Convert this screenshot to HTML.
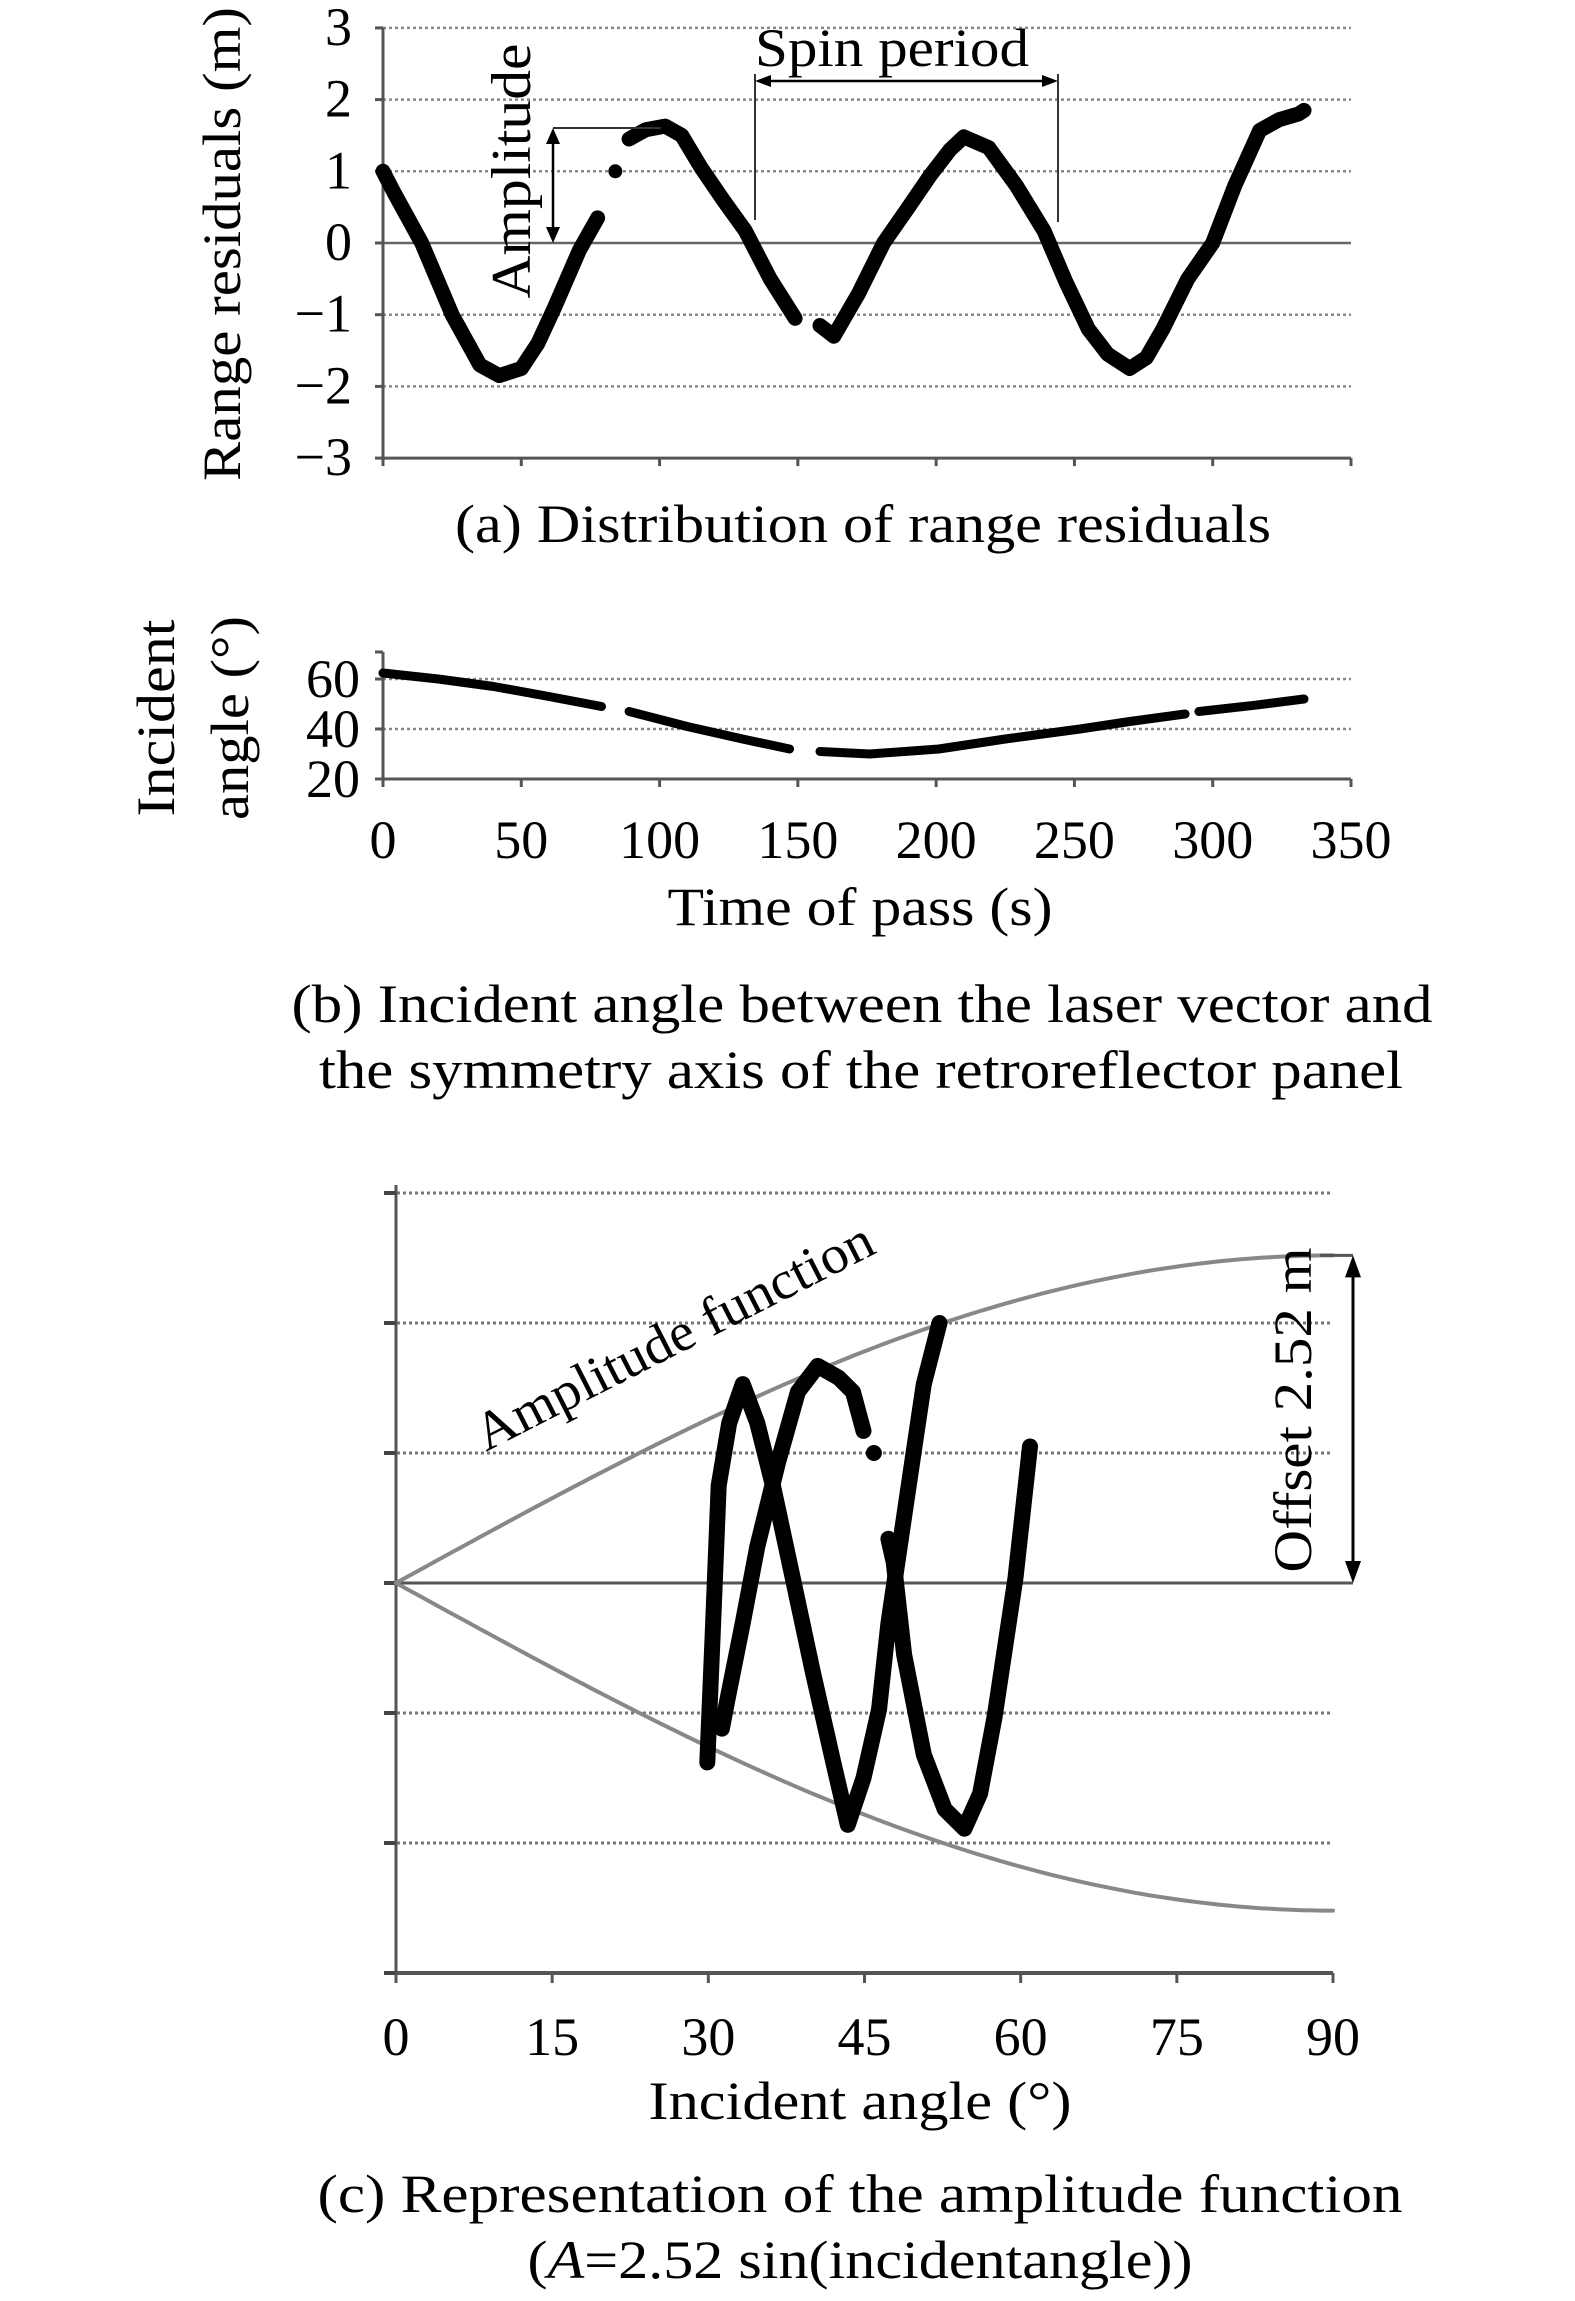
<!DOCTYPE html>
<html><head><meta charset="utf-8"><style>
html,body{margin:0;padding:0;background:#fff;}
svg{display:block;font-family:"Liberation Serif",serif;}
</style></head><body>
<svg id="fig" width="1575" height="2301" viewBox="0 0 1575 2301" xmlns="http://www.w3.org/2000/svg">
<g id="ga"></g>
<g id="gb"></g>
<g id="gc"></g>
</svg>
<script>
// ---- chart (a) data: range residuals vs time (segments separated by gaps)
const aSeg1T = [0, 4, 14, 25, 35, 42, 50, 56, 62, 71, 77.6];
const aSeg1V = [1.0, 0.7, 0, -1.0, -1.7, -1.85, -1.75, -1.4, -0.9, -0.1, 0.35];
const aDotT = [84];
const aDotV = [1.0];
const aSeg2T = [89, 95, 102, 108, 115, 123, 131, 140, 149];
const aSeg2V = [1.45, 1.58, 1.63, 1.5, 1.05, 0.6, 0.17, -0.5, -1.05];
const aSeg3T = [158, 163, 172, 181, 190, 198, 205, 210, 219, 229, 239, 247, 255, 262, 270, 276, 282, 291, 300, 308, 317, 324, 331, 333];
const aSeg3V = [-1.15, -1.3, -0.7, 0, 0.5, 0.95, 1.3, 1.48, 1.33, 0.8, 0.17, -0.55, -1.2, -1.55, -1.75, -1.6, -1.2, -0.5, 0, 0.8, 1.57, 1.72, 1.8, 1.85];
const aYTicks = [3, 2, 1, 0, -1, -2, -3];
const aYLabels = ["3", "2", "1", "0", "\u22121", "\u22122", "\u22123"];
const xTicksTime = [0, 50, 100, 150, 200, 250, 300, 350];
// ---- chart (b) data: incident angle vs time
const bSeg1T = [0, 20, 40, 60, 79];
const bSeg1V = [62.4, 60, 57, 53, 49];
const bSeg2T = [89, 110, 130, 147];
const bSeg2V = [47, 41, 36, 32];
const bSeg3T = [158, 176, 201, 225, 252, 270, 290];
const bSeg3V = [31, 30, 32, 36, 40, 43, 46];
const bSeg4T = [295, 315, 333];
const bSeg4V = [47, 49.5, 52];
const bYTicks = [60, 40, 20];
// ---- chart (c) data: residual vs incident angle
const cA1 = [60.9, 59.5, 57.5, 56.1, 54.6, 52.7, 50.7, 48.8, 47.8, 47.3];
const cV1 = [1.05, 0.04, -1.03, -1.62, -1.89, -1.74, -1.32, -0.55, 0.16, 0.34];
const cDotA = [45.9];
const cDotV = [1.0];
const cA2 = [44.9, 43.9, 42.5, 40.5, 38.6, 36.7, 34.7, 33.3, 31.8, 31.3];
const cV2 = [1.17, 1.47, 1.58, 1.67, 1.47, 0.93, 0.28, -0.31, -0.91, -1.12];
const cA3 = [29.9, 30.4, 31.0, 32.0, 33.3, 34.7, 36.2, 38.1, 40.0, 42.0, 43.4, 44.9, 46.4, 47.3, 48.6, 49.8, 50.7, 52.2];
const cV3 = [-1.38, -0.43, 0.75, 1.23, 1.53, 1.23, 0.75, 0.04, -0.67, -1.38, -1.86, -1.5, -0.97, -0.31, 0.40, 1.05, 1.53, 2.0];
const cAmp = [2.52];
const cXTicks = [0, 15, 30, 45, 60, 75, 90];
const cGrid = [3, 2, 1, -1, -2];

const NS = "http://www.w3.org/2000/svg";
function mk(parent, tag, attrs, text) {
  const e = document.createElementNS(NS, tag);
  for (const k in attrs) e.setAttribute(k, attrs[k]);
  if (text !== undefined) e.textContent = text;
  parent.appendChild(e);
  return e;
}
function poly(parent, xs, ys, fx, fy, w, name) {
  const pts = xs.map((x, i) => fx(x).toFixed(1) + "," + fy(ys[i]).toFixed(1)).join(" ");
  const p = mk(parent, "polyline", {points: pts, fill: "none", stroke: "#000", "stroke-width": w, "stroke-linejoin": "round", "stroke-linecap": "round"});
  
  
  return p;
}
function dot(parent, x, y, r, name) {
  const c = mk(parent, "circle", {cx: x, cy: y, r: r, fill: "#000"});
  
  
}
function line(parent, x1, y1, x2, y2, st, w, dash, name) {
  const l = mk(parent, "line", {x1, y1, x2, y2, stroke: st, "stroke-width": w});
  if (dash) l.setAttribute("stroke-dasharray", dash);
  
  
  return l;
}
function txt(parent, x, y, s, size, anchor, name, extra) {
  const t = mk(parent, "text", Object.assign({x, y, "font-size": size, "text-anchor": anchor || "middle", fill: "#000"}, extra || {}), s);
  
  
  return t;
}
function wide(len) { return {textLength: len, lengthAdjust: "spacingAndGlyphs"}; }

// ===== Chart (a)
const ga = document.getElementById("ga");
const ax = t => 383 + t / 350 * 968;
const ay = v => 243 - v * 71.7;
aYTicks.forEach((v, i) => {
  if (v === 0) line(ga, 383, ay(v), 1351, ay(v), "#666", 2.5, null, "zero-line");
  else if (v !== -3) line(ga, 383, ay(v), 1351, ay(v), "#888", 2.5, "3 3", "gridline-y");
  line(ga, 375, ay(v), 383, ay(v), "#555", 3, null, "y-tick");
  txt(ga, 352, ay(v) + 17, aYLabels[i], 54, "end", "y-tick-label");
});
line(ga, 383, ay(3), 383, ay(-3), "#555", 3, null, "y-axis");
line(ga, 383, ay(-3), 1351, ay(-3), "#555", 3, null, "x-axis");
xTicksTime.forEach(t => line(ga, ax(t), ay(-3), ax(t), ay(-3) + 8, "#555", 3, null, "x-tick"));
poly(ga, aSeg1T, aSeg1V, ax, ay, 15, "residual-segment-1");
aDotT.forEach((t, i) => dot(ga, ax(t), ay(aDotV[i]), 7, "residual-dot"));
poly(ga, aSeg2T, aSeg2V, ax, ay, 15, "residual-segment-2");
poly(ga, aSeg3T, aSeg3V, ax, ay, 15, "residual-segment-3");
// spin period annotation
line(ga, 755, 74, 755, 220, "#333", 2, null, "spin-period-left-line");
line(ga, 1058, 74, 1058, 222, "#333", 2, null, "spin-period-right-line");
line(ga, 765, 81, 1048, 81, "#000", 2.5, null, "spin-period-arrow");
mk(ga, "path", {d: "M755,81 l16,-6 v12 z M1058,81 l-16,-6 v12 z", fill: "#000"});
txt(ga, 892, 66, "Spin period", 54, "middle", "spin-period-label", wide(274));
// amplitude annotation
line(ga, 553, 128, 661, 128, "#333", 2, null, "amplitude-top-line");
line(ga, 553, 140, 553, 232, "#000", 2.5, null, "amplitude-arrow");
mk(ga, "path", {d: "M553,128 l-7,16 h14 z M553,243 l-7,-16 h14 z", fill: "#000"});
txt(ga, 0, 0, "Amplitude", 56, "middle", "amplitude-label", Object.assign({transform: "translate(530,171) rotate(-90)"}, wide(255)));
txt(ga, 0, 0, "Range residuals (m)", 54, "middle", "y-axis-title-a", Object.assign({transform: "translate(240,244) rotate(-90)"}, wide(474)));
txt(ga, 863, 542, "(a) Distribution of range residuals", 54, "middle", "caption-a", wide(816));

// ===== Chart (b)
const gb = document.getElementById("gb");
const by = v => 779 - (v - 20) * 2.5;
line(gb, 383, by(60), 1351, by(60), "#888", 2.5, "3 3", "gridline-60");
line(gb, 383, by(40), 1351, by(40), "#888", 2.5, "3 3", "gridline-40");
line(gb, 383, 652, 383, by(20), "#555", 3, null, "y-axis-b");
line(gb, 383, by(20), 1351, by(20), "#555", 3, null, "x-axis-b");
[652, by(60), by(40), by(20)].forEach(y => line(gb, 375, y, 383, y, "#555", 3, null, "y-tick-b"));
bYTicks.forEach(v => txt(gb, 360, by(v) + 18, String(v), 54, "end", "y-tick-label-b"));
xTicksTime.forEach(t => {
  line(gb, ax(t), by(20), ax(t), by(20) + 8, "#555", 3, null, "x-tick-b");
  txt(gb, ax(t), 858, String(t), 54, "middle", "x-tick-label-b");
});
poly(gb, bSeg1T, bSeg1V, ax, by, 9, "angle-segment-1");
poly(gb, bSeg2T, bSeg2V, ax, by, 9, "angle-segment-2");
poly(gb, bSeg3T, bSeg3V, ax, by, 9, "angle-segment-3");
poly(gb, bSeg4T, bSeg4V, ax, by, 9, "angle-segment-4");
txt(gb, 0, 0, "Incident", 54, "middle", "y-axis-title-b-line1", Object.assign({transform: "translate(174,718) rotate(-90)"}, wide(197)));
txt(gb, 0, 0, "angle (\u00b0)", 54, "middle", "y-axis-title-b-line2", Object.assign({transform: "translate(248,718) rotate(-90)"}, wide(204)));
txt(gb, 860, 925, "Time of pass (s)", 54, "middle", "x-axis-title-b", wide(385));
txt(gb, 862, 1022, "(b) Incident angle between the laser vector and", 54, "middle", "caption-b-line1", wide(1141));
txt(gb, 861, 1088, "the symmetry axis of the retroreflector panel", 54, "middle", "caption-b-line2", wide(1084));

// ===== Chart (c)
const gc = document.getElementById("gc");
const cx = a => 396 + a / 90 * 937;
const cy = v => 1583 - v * 130;
cGrid.forEach(v => line(gc, 385, cy(v), 1333, cy(v), "#777", 3, "3 3", "gridline-c"));
line(gc, 385, cy(0), 1353, cy(0), "#555", 3, null, "zero-line-c");
line(gc, 385, cy(-3), 1333, cy(-3), "#555", 4, null, "x-axis-c");
line(gc, 396, 1185, 396, cy(-3) + 8, "#555", 3, null, "y-axis-c");
[3,2,1,0,-1,-2,-3].forEach(v => line(gc, 384, cy(v), 396, cy(v), "#444", 4, null, "y-tick-c"));
cXTicks.forEach(a => {
  line(gc, cx(a), cy(-3), cx(a), cy(-3) + 10, "#555", 3, null, "x-tick-c");
  txt(gc, cx(a), 2055, String(a), 54, "middle", "x-tick-label-c");
});
const angs = []; for (let a = 0; a <= 90; a += 1) angs.push(a);
poly(gc, angs, angs.map(a => cAmp[0] * Math.sin(a * Math.PI / 180)), cx, cy, 4, "amplitude-curve-upper").setAttribute("stroke", "#888");
poly(gc, angs, angs.map(a => -cAmp[0] * Math.sin(a * Math.PI / 180)), cx, cy, 4, "amplitude-curve-lower").setAttribute("stroke", "#888");
line(gc, 1320, cy(cAmp[0]), 1353, cy(cAmp[0]), "#555", 3, null, "offset-top-line");
poly(gc, cA1, cV1, cx, cy, 16, "scatter-stroke-1");
cDotA.forEach((a, i) => dot(gc, cx(a), cy(cDotV[i]), 8, "scatter-dot"));
poly(gc, cA2, cV2, cx, cy, 16, "scatter-stroke-2");
poly(gc, cA3, cV3, cx, cy, 16, "scatter-stroke-3");
line(gc, 1353, cy(cAmp[0]) + 16, 1353, cy(0) - 16, "#000", 3, null, "offset-arrow");
mk(gc, "path", {d: `M1353,${cy(cAmp[0])} l-8,22 h16 z M1353,${cy(0)} l-8,-22 h16 z`, fill: "#000"});
txt(gc, 0, 0, "Offset 2.52 m", 54, "middle", "offset-label", Object.assign({transform: "translate(1311,1410) rotate(-90)"}, wide(325)));
txt(gc, 0, 0, "Amplitude function", 54, "middle", "amplitude-function-label", Object.assign({transform: "translate(682,1352) rotate(-27)"}, wide(440)));
txt(gc, 860, 2119, "Incident angle (\u00b0)", 54, "middle", "x-axis-title-c", wide(423));
txt(gc, 860, 2212, "(c) Representation of the amplitude function", 54, "middle", "caption-c-line1", wide(1085));
const c2 = txt(gc, 860, 2278, "", 54, "middle", "caption-c-line2", wide(665));
c2.innerHTML = '(<tspan font-style="italic">A</tspan>=2.52 sin(incidentangle))';
</script>
</body></html>
